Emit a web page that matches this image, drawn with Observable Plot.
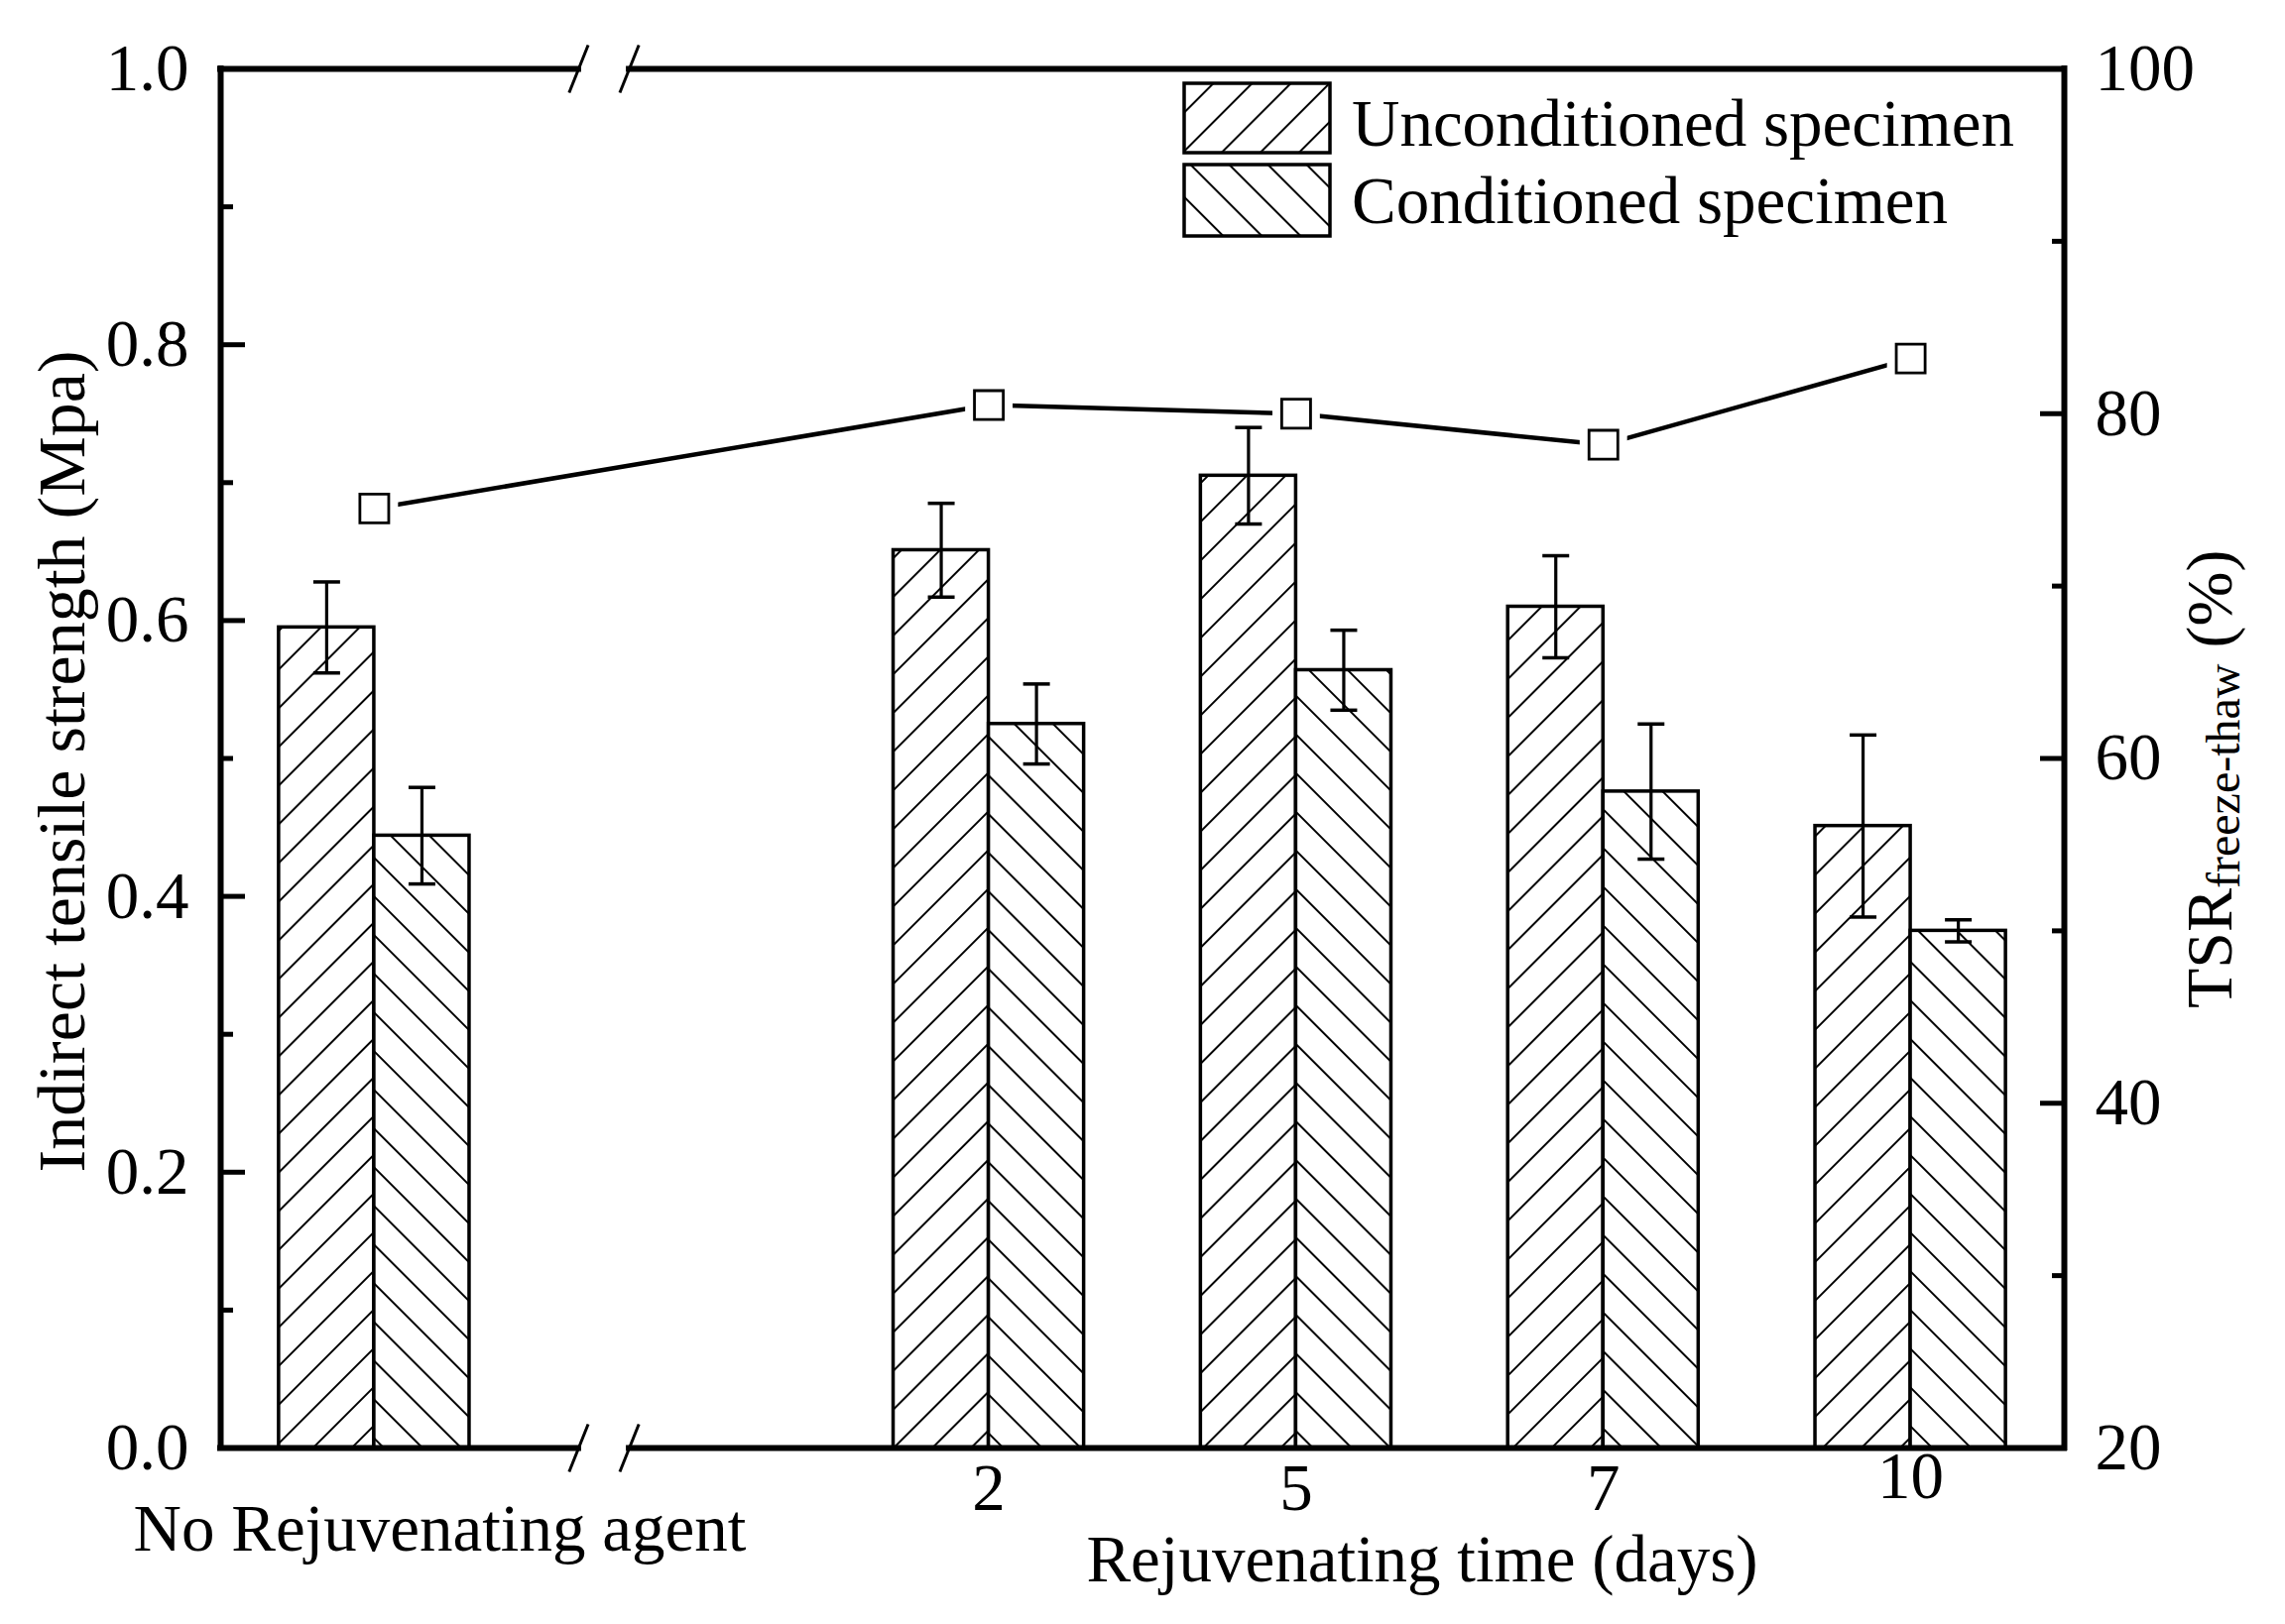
<!DOCTYPE html>
<html>
<head>
<meta charset="utf-8">
<script src="https://cdn.jsdelivr.net/npm/d3@7"></script>
<script src="https://cdn.jsdelivr.net/npm/@observablehq/plot@0.6"></script>
<style>
  body { margin: 0; background: white; }
  #plot { width: 2304px; height: 1638px; }
</style>
</head>
<body>
<div id="plot"></div>
<script>
// values
const categories = ["No Rejuvenating agent", "2", "5", "7", "10"];
const unconditioned = [0.595, 0.651, 0.705, 0.610, 0.451];
const unconditionedErr = [0.033, 0.034, 0.035, 0.037, 0.066];
const conditioned = [0.444, 0.525, 0.564, 0.476, 0.375];
const conditionedErr = [0.035, 0.029, 0.029, 0.049, 0.008];
const tsr = [74.5, 80.5, 80.0, 78.2, 83.2];

const leftTicks = [0, 0.2, 0.4, 0.6, 0.8, 1.0];
const leftMinor = [0.1, 0.3, 0.5, 0.7, 0.9];
const rightTicks = [20, 40, 60, 80, 100];
const rightMinor = [30, 50, 70, 90];

const seriesNames = ["Unconditioned specimen", "Conditioned specimen"];

// slot 1 stays empty: that is where the axis break sits
const slotOf = i => (i === 0 ? 0 : i + 1);
const barW = 0.31;
const breakAt = [0.665, 0.83];
const toLeft = t => (t - 20) / 80; // right axis 20..100 onto left 0..1

const bars = categories.flatMap((c, i) => [
  {cat: c, s: slotOf(i), x1: slotOf(i) - barW, x2: slotOf(i), v: unconditioned[i], e: unconditionedErr[i], fill: "url(#hatchU)"},
  {cat: c, s: slotOf(i), x1: slotOf(i), x2: slotOf(i) + barW, v: conditioned[i], e: conditionedErr[i], fill: "url(#hatchC)"}
]);
const tsrRows = categories.map((c, i) => ({cat: c, s: slotOf(i), y: toLeft(tsr[i])}));

// small custom symbols: error bar cap and axis break slash
const capSymbol = {draw(ctx, size) { const r = Math.sqrt(size / Math.PI); ctx.moveTo(-r, 0); ctx.lineTo(r, 0); }};
const slashSymbol = {draw(ctx, size) { const r = Math.sqrt(size / Math.PI); ctx.moveTo(-0.4 * r, r); ctx.lineTo(0.4 * r, -r); }};

const frameSegs = [
  {x1: -0.5, x2: breakAt[0]},
  {x1: breakAt[1], x2: 5.5}
];
const breaks = [0, 1].flatMap(y => breakAt.map(x => ({x, y})));

const tickLabels = categories.slice(1).map((c, i) => ({cat: c, s: slotOf(i + 1)}));

const plot = Plot.plot({
  width: 2304,
  height: 1638,
  marginLeft: 222,
  marginRight: 223,
  marginTop: 69,
  marginBottom: 178,
  style: {fontFamily: "'Liberation Serif', 'Times New Roman', serif", fontSize: "67px", background: "white", color: "black"},
  x: {type: "linear", domain: [-0.5, 5.5], axis: null},
  y: {domain: [0, 1], axis: null},
  marks: [
    Plot.rectY(bars, {x1: "x1", x2: "x2", y1: 0, y2: "v", fill: d => d.fill, stroke: "black", strokeWidth: 3.5}),
    Plot.line(tsrRows, {x: "s", y: "y", stroke: "black", strokeWidth: 4.5}),
    // white gap around each marker, like the original
    Plot.dot(tsrRows, {x: "s", y: "y", symbol: "square", r: 27, fill: "white"}),
    Plot.ruleX(bars, {x: d => (d.x1 + d.x2) / 2, y1: d => d.v - d.e, y2: d => d.v + d.e, stroke: "black", strokeWidth: 3.2}),
    Plot.dot(bars, {x: d => (d.x1 + d.x2) / 2, y: d => d.v + d.e, symbol: capSymbol, r: 13.5, stroke: "black", strokeWidth: 3.5}),
    Plot.dot(bars, {x: d => (d.x1 + d.x2) / 2, y: d => d.v - d.e, symbol: capSymbol, r: 13.5, stroke: "black", strokeWidth: 3.5}),
    Plot.dot(tsrRows, {x: "s", y: "y", symbol: "square", r: 16.4, fill: "white", stroke: "black", strokeWidth: 2.8}),

    // frame with breaks
    Plot.ruleX([-0.5, 5.5], {y1: 0, y2: 1, stroke: "black", strokeWidth: 6, strokeLinecap: "square"}),
    Plot.ruleY(frameSegs, {x1: "x1", x2: "x2", y: 0, stroke: "black", strokeWidth: 6, strokeLinecap: "square"}),
    Plot.ruleY(frameSegs, {x1: "x1", x2: "x2", y: 1, stroke: "black", strokeWidth: 6, strokeLinecap: "square"}),
    Plot.dot(breaks, {x: "x", y: "y", symbol: slashSymbol, r: 24, stroke: "black", strokeWidth: 3}),

    // axes, ticks pointing inward
    Plot.axisY(leftTicks, {anchor: "left", tickSize: -25, tickPadding: 57, strokeWidth: 5, tickFormat: d => d.toFixed(1), label: null}),
    Plot.axisY(leftMinor, {anchor: "left", tickSize: -13, strokeWidth: 5, tickFormat: () => "", label: null}),
    Plot.axisY(rightTicks.map(toLeft), {anchor: "right", tickSize: -25, tickPadding: 56, strokeWidth: 5, tickFormat: d => String(Math.round(20 + 80 * d)), label: null}),
    Plot.axisY(rightMinor.map(toLeft), {anchor: "right", tickSize: -13, strokeWidth: 5, tickFormat: () => "", label: null}),

    // category labels under the axis
    Plot.text(tickLabels.filter(d => d.cat !== "10"), {x: "s", y: 0, text: "cat", dy: 62, lineAnchor: "bottom"}),
    Plot.text(tickLabels.filter(d => d.cat === "10"), {x: "s", y: 0, text: "cat", dy: 50, lineAnchor: "bottom"}),
    Plot.text([categories[0]], {x: slotOf(0), y: 0, text: d => d, dx: 66, dy: 103, lineAnchor: "bottom"}),
    Plot.text(["Rejuvenating time (days)"], {frameAnchor: "bottom", text: d => d, dx: 282, dy: 134, lineAnchor: "bottom"}),
    Plot.text(["Indirect tensile strength (Mpa)"], {frameAnchor: "left", text: d => d, rotate: -90, dx: -138, dy: 3, textAnchor: "middle", lineAnchor: "bottom", fontSize: 68})
  ]
});

const svg = d3.select(plot);

// hatch patterns
const defs = svg.insert("defs", ":first-child");
[["hatchU", 45], ["hatchC", -45]].forEach(([id, angle]) => {
  const p = defs.append("pattern")
    .attr("id", id)
    .attr("patternUnits", "userSpaceOnUse")
    .attr("width", 27.6)
    .attr("height", 27.6)
    .attr("patternTransform", `rotate(${angle})`);
  p.append("rect").attr("width", 27.6).attr("height", 27.6).attr("fill", "white");
  p.append("line").attr("x1", 13.8).attr("x2", 13.8).attr("y1", -1).attr("y2", 28.6)
    .attr("stroke", "black").attr("stroke-width", 2);
});

// right axis title with subscript
const rt = svg.append("text")
  .attr("transform", "translate(2250,1017) rotate(-90)")
  .attr("text-anchor", "start")
  .attr("fill", "black");
rt.append("tspan").attr("font-size", 66).text("TSR");
rt.append("tspan").attr("font-size", 48).attr("dy", 8).text("freeze-thaw");
rt.append("tspan").attr("font-size", 66).attr("dy", -8).attr("dx", 16).text("(%)");

// legend
const lg = svg.append("g").attr("text-anchor", "start");
const legendRows = [
  {name: seriesNames[0], fill: "url(#hatchU)", top: 84, h: 70, base: 147},
  {name: seriesNames[1], fill: "url(#hatchC)", top: 166, h: 72, base: 225}
];
legendRows.forEach(d => {
  lg.append("rect").attr("x", 1194).attr("y", d.top).attr("width", 147).attr("height", d.h)
    .attr("fill", d.fill).attr("stroke", "black").attr("stroke-width", 3.5);
  lg.append("text").attr("x", 1363).attr("y", d.base).attr("fill", "black").text(d.name);
});

document.getElementById("plot").appendChild(plot);
</script>
</body>
</html>
